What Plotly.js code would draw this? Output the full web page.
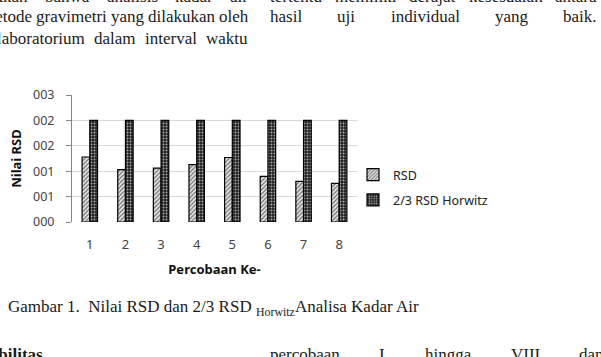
<!DOCTYPE html>
<html><head><meta charset="utf-8">
<script src="https://cdn.plot.ly/plotly-3.0.1.min.js"></script>
<style>html,body{margin:0;padding:0;background:#fff;overflow:hidden}#chart{width:601px;height:357px}</style>
</head><body><div id="chart"></div>
<script>
// ---- chart data ----
const categories = ['1','2','3','4','5','6','7','8'];
const rsdValues = [1.28, 1.03, 1.06, 1.13, 1.27, 0.90, 0.80, 0.76];
const horwitzValues = [2.0, 2.0, 2.0, 2.0, 2.0, 2.0, 2.0, 2.0];
const seriesNames = ['RSD', '2/3 RSD Horwitz'];
const yTickVals = [0, 0.5, 1, 1.5, 2, 2.5];
const yTickText = ['000', '001', '001', '002', '002', '003'];
const xTitle = 'Percobaan Ke-';
const yTitle = 'Nilai RSD';

// ---- surrounding document text ----
const leftColLines = [
  ['menunjukkan', 'bahwa', 'analisis', 'kadar', 'air'],
  ['metode', 'gravimetri', 'yang', 'dilakukan', 'oleh'],
  ['laboratorium', 'dalam', 'interval', 'waktu']
];
const rightColLines = [
  ['tertentu', 'memiliki', 'derajat', 'kesesuaian', 'antara'],
  ['hasil', 'uji', 'individual', 'yang', 'baik.']
];
const captionText = 'Gambar 1.&nbsp; Nilai RSD dan 2/3 RSD <sub>Horwitz</sub>Analisa Kadar Air';
const headingWord = 'Reprodusibilitas';
const bottomLineWords = ['percobaan', 'I', 'hingga', 'VIII', 'dan'];

// ---- geometry ----
const W = 601, H = 357, M = {l: 72, r: 244, t: 95, b: 135};
const pw = W - M.l - M.r, ph = H - M.t - M.b;
const px = x => (x - M.l) / pw;
const py = y => 1 - (y - M.t) / ph;

const SERIF = 'Liberation Serif';
const FS = 17;
const cv = document.createElement('canvas').getContext('2d');
function measure(t, bold) { cv.font = (bold ? 'bold ' : '') + FS + 'px "' + SERIF + '"'; return cv.measureText(t).width; }

const annotations = [];
function word(t, x, base, opts) {
  opts = opts || {};
  annotations.push({
    text: opts.bold ? '<b>' + t + '</b>' : t, xref: 'paper', yref: 'paper',
    x: px(x), y: py(base - 0.33 * FS), xanchor: opts.anchor || 'left', yanchor: 'middle',
    showarrow: false, borderpad: 0, borderwidth: 0,
    font: {family: SERIF, size: FS, color: '#1a1a1a'}
  });
}
function justify(words, left, right, base) {
  const ws = words.map(w => measure(w));
  const total = ws.reduce((a, b) => a + b, 0);
  const gap = (right - left - total) / (words.length - 1);
  let x = left;
  words.forEach((w, i) => { word(w, x, base); x += ws[i] + gap; });
}
const bases = [2, 22, 44];
// left column: first word cut by left edge -> given by its visible end
const firstEnds = [28, 32, 85];
leftColLines.forEach((ln, i) => justify(ln, firstEnds[i] - measure(ln[0]), 248, bases[i]));
rightColLines.forEach((ln, i) => justify(ln, 270, 597, bases[i]));
// caption
annotations.push({
  text: captionText, xref: 'paper', yref: 'paper', x: px(7), y: py(314 - 0.33 * FS),
  xanchor: 'left', yanchor: 'middle', showarrow: false, borderpad: 0,
  font: {family: SERIF, size: FS, color: '#1a1a1a'}
});
word(headingWord, 43, 360, {bold: true, anchor: 'right'});
justify(bottomLineWords, 270, 604, 360);

const SANS = 'Noto Sans';
const traces = [
  {
    type: 'bar', name: seriesNames[0], x: categories, y: rsdValues,
    legendgroup: 'a',
    marker: {color: '#ffffff', line: {color: '#000000', width: 1.2},
      pattern: {shape: '/', fgcolor: '#6e6e6e', bgcolor: '#e6e6e6', size: 3, solidity: 0.4}}
  },
  {
    type: 'bar', name: seriesNames[1], x: categories, y: horwitzValues,
    legendgroup: 'b',
    marker: {color: '#222222', line: {color: '#000000', width: 1.2},
      pattern: {shape: '.', fgcolor: '#a8a8a8', bgcolor: '#1e1e1e', size: 3, solidity: 0.35}}
  }
];

const layout = {
  width: W, height: H, margin: M, paper_bgcolor: '#ffffff', plot_bgcolor: '#ffffff',
  barmode: 'group', bargap: 0.567, bargroupgap: 0,
  showlegend: true,
  legend: {x: px(353), y: py(160), xanchor: 'left', yanchor: 'top', traceorder: 'grouped',
    itemwidth: 30, tracegroupgap: 6, font: {family: SANS, size: 12.5, color: '#222'}, bgcolor: 'rgba(0,0,0,0)'},
  xaxis: {
    type: 'category', showgrid: false, showline: false, zeroline: false, ticks: '',
    tickfont: {family: SANS, size: 13, color: '#444'}, ticklabelstandoff: 13,
    title: {text: '<b>' + xTitle + '</b>', font: {family: SANS, size: 13, color: '#111'}, standoff: 12}
  },
  yaxis: {
    range: [0, 2.5], tickvals: yTickVals, ticktext: yTickText, showgrid: true,
    gridcolor: '#d9d9d9', gridwidth: 1, zeroline: false, showline: true, linecolor: '#868686',
    ticks: 'outside', ticklen: 5, tickcolor: '#868686', ticklabelstandoff: 9,
    tickfont: {family: SANS, size: 12.5, color: '#444'},
    title: {text: '<b>' + yTitle + '</b>', font: {family: SANS, size: 13, color: '#111'}, standoff: 8}
  },
  annotations: annotations
};
Plotly.newPlot('chart', traces, layout, {staticPlot: true, displayModeBar: false});
</script></body></html>
